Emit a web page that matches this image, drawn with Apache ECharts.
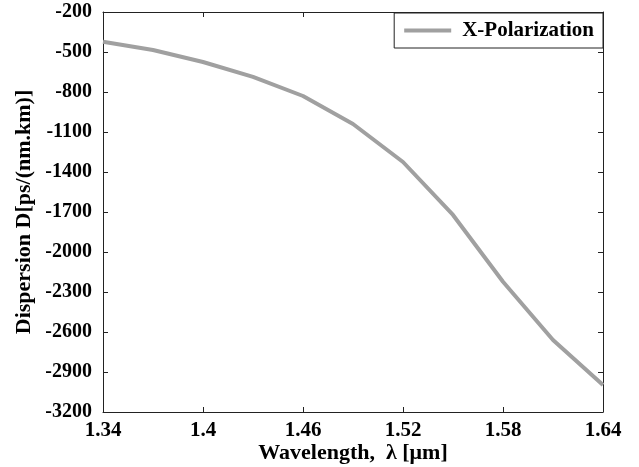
<!DOCTYPE html>
<html lang="en" style="height: 100%">
<head>
  <meta charset="utf-8" />
  <title>Dispersion vs Wavelength</title>
</head>
<body style="height: 100%; margin: 0; background: #fff">
  <div id="container" style="width: 639px; height: 467px"></div>

  <script src="https://cdn.jsdelivr.net/npm/echarts@6/dist/echarts.min.js"></script>

  <script>
    // values
    const wavelength = [1.34, 1.37, 1.40, 1.43, 1.46, 1.49, 1.52, 1.55, 1.58, 1.61, 1.64];
    const dispersion = [-423, -485, -575, -687, -830, -1040, -1325, -1722, -2223, -2660, -2997];

    const xTicks = [1.34, 1.4, 1.46, 1.52, 1.58, 1.64];
    const yTicks = [-3200, -2900, -2600, -2300, -2000, -1700, -1400, -1100, -800, -500, -200];

    const seriesName = 'X-Polarization';

    // pair up for a value x axis
    const points = [];
    for (let i = 0; i < wavelength.length; i++) {
      points.push([wavelength[i], dispersion[i]]);
    }

    const font = "'Liberation Serif', 'Times New Roman', serif";
    const axisLine = { show: true, lineStyle: { color: '#222', width: 1 } };

    var dom = document.getElementById('container');
    var myChart = echarts.init(dom);

    var option = {
      animation: false,
      grid: { left: 103, right: 36, top: 12, bottom: 55, containLabel: false, outerBoundsMode: 'none' },
      legend: {
        data: [seriesName],
        right: 36,
        top: 13,
        icon: 'rect',
        itemWidth: 47,
        itemHeight: 4,
        padding: [7, 9, 7, 10],
        backgroundColor: '#fff',
        borderColor: '#222',
        borderWidth: 1,
        textStyle: {
          fontFamily: font, fontWeight: 'bold', fontSize: 21, color: '#000',
          padding: [0, 0, 0, 6]
        }
      },
      xAxis: [
        {
          type: 'value',
          min: 1.34,
          max: 1.64,
          name: 'Wavelength,  λ [μm]',
          nameLocation: 'middle',
          nameGap: 30,
          nameMoveOverlap: false,
          nameTextStyle: { fontFamily: font, fontWeight: 'bold', fontSize: 22, color: '#000' },
          axisLine: axisLine,
          axisTick: { show: true, inside: true, length: 5, customValues: xTicks, lineStyle: { color: '#222' } },
          axisLabel: {
            customValues: xTicks,
            margin: 8,
            formatter: function (v) { return String(v); },
            fontFamily: font, fontWeight: 'bold', fontSize: 21, color: '#000'
          },
          splitLine: { show: false }
        },
        {
          type: 'value',
          position: 'top',
          min: 1.34,
          max: 1.64,
          axisLine: axisLine,
          axisTick: { show: true, inside: true, length: 5, customValues: xTicks, lineStyle: { color: '#222' } },
          axisLabel: { show: false },
          splitLine: { show: false }
        }
      ],
      yAxis: [
        {
          type: 'value',
          min: -3200,
          max: -200,
          name: 'Dispersion D[ps/(nm.km)]',
          nameLocation: 'middle',
          nameRotate: 90,
          nameGap: 68,
          nameMoveOverlap: false,
          nameTextStyle: { fontFamily: font, fontWeight: 'bold', fontSize: 22, color: '#000' },
          axisLine: axisLine,
          axisTick: { show: true, inside: true, length: 5, customValues: yTicks, lineStyle: { color: '#222' } },
          axisLabel: {
            customValues: yTicks,
            margin: 11,
            formatter: function (v) { return String(v); },
            fontFamily: font, fontWeight: 'bold', fontSize: 20, color: '#000'
          },
          splitLine: { show: false }
        },
        {
          type: 'value',
          position: 'right',
          min: -3200,
          max: -200,
          axisLine: axisLine,
          axisTick: { show: true, inside: true, length: 5, customValues: yTicks, lineStyle: { color: '#222' } },
          axisLabel: { show: false },
          splitLine: { show: false }
        }
      ],
      series: [
        {
          name: seriesName,
          type: 'line',
          data: points,
          symbol: 'none',
          color: '#a0a0a0',
          lineStyle: { width: 4, color: '#a0a0a0' }
        }
      ]
    };

    myChart.setOption(option);

    window.onresize = function() {
      myChart.resize();
    };
  </script>
</body>
</html>
